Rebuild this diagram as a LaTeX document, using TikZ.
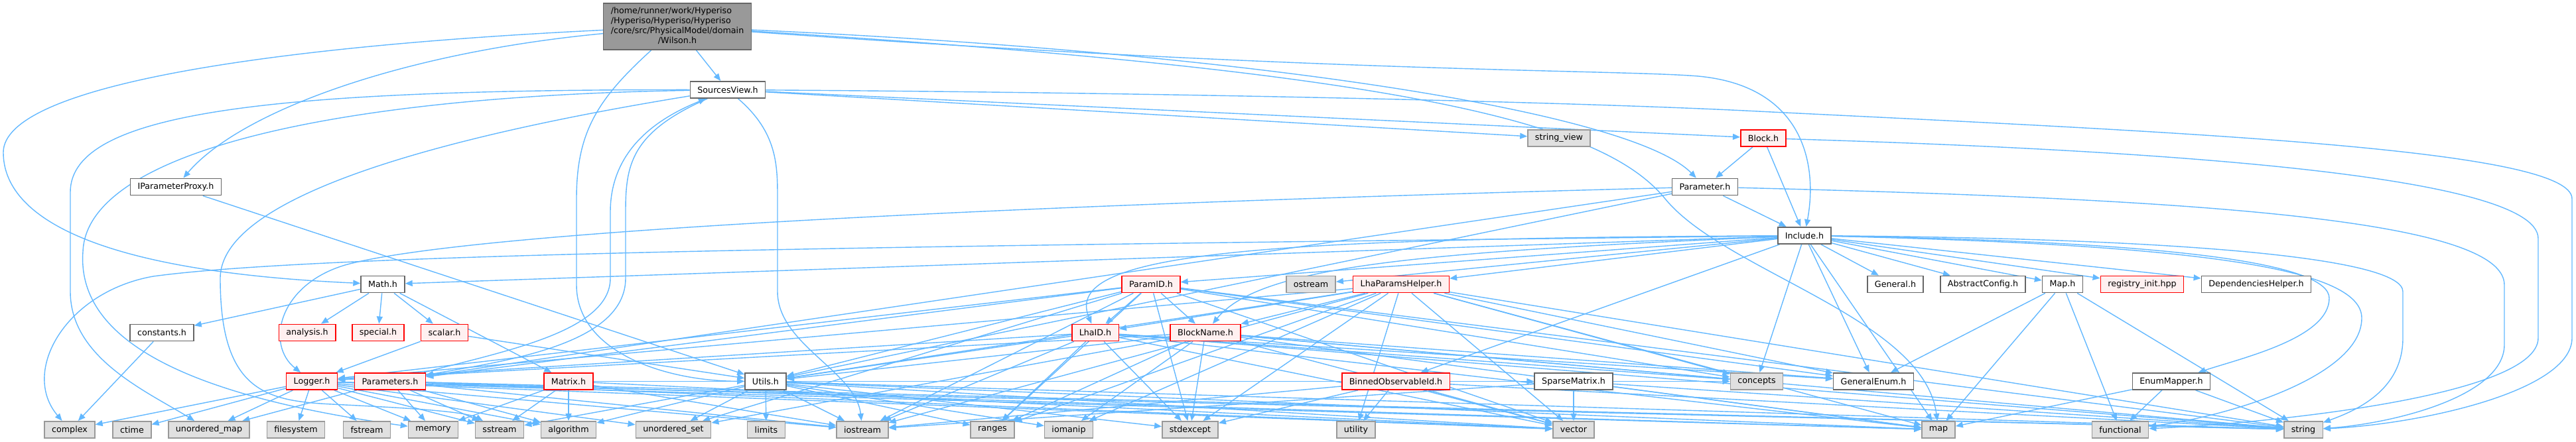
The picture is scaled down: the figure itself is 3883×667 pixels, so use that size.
\documentclass[tikz,border=0pt]{standalone}
\usepackage{fontspec}
\setmainfont{DejaVu Sans}
\usetikzlibrary{arrows.meta,backgrounds}
\definecolor{edgeblue}{HTML}{63B8FF}
\definecolor{mainfill}{HTML}{999999}
\definecolor{boxline}{HTML}{666666}
\definecolor{sysfill}{HTML}{E0E0E0}
\definecolor{sysline}{HTML}{999999}
\definecolor{truncfill}{HTML}{FFF0F0}
\definecolor{truncline}{HTML}{FF0000}
\begin{document}
\begin{tikzpicture}[x=0.5pt,y=-0.5pt,
    every node/.style={draw=boxline,fill=white,rectangle,line width=0.75pt,inner xsep=5.5pt,inner ysep=0pt,minimum height=12.7pt,font=\fontsize{6.35}{7.5}\selectfont},
    sysfile/.style={draw=sysline,fill=sysfill},
    trunc/.style={draw=truncline,fill=truncfill},
    mainfile/.style={fill=mainfill,inner ysep=2.5pt},
    inc/.style={draw=edgeblue,line width=0.7pt,-{Triangle[length=5.5pt,width=4.5pt]}},
    every edge/.style={inc}]
    \useasboundingbox (0,0) rectangle (3883,667);

    \node[mainfile] (wilson) at (1021,40) {\begin{tabular}{@{}l@{}}/home/runner/work/Hyperiso\\/Hyperiso/Hyperiso/Hyperiso\\/core/src/PhysicalModel/domain\\\multicolumn{1}{@{}c@{}}{/Wilson.h}\end{tabular}};
    \node at (1097,135.5) (sview) {SourcesView.h};
    \node at (265,282) (iproxy) {IParameterProxy.h};
    \node[sysfile] at (2350,208.5) (strview) {string\_view};
    \node[trunc] at (2658,208.5) (block) {Block.h};
    \node at (2570,282) (param) {Parameter.h};
    \node at (2720,355.5) (include) {Include.h};

    \node at (577,429) (math) {Math.h};
    \node[trunc] at (1735,429) (paramid) {ParamID.h};
    \node[sysfile] at (1976,429) (ostream) {ostream};
    \node[trunc] at (2112,429) (lhahelper) {LhaParamsHelper.h};
    \node at (2857,429) (general) {General.h};
    \node at (2989,429) (absconfig) {AbstractConfig.h};
    \node at (3109,429) (mapH) {Map.h};
    \node[trunc] at (3229,429) (registry) {registry\_init.hpp};
    \node at (3401,429) (dephelper) {DependenciesHelper.h};

    \node at (244,502) (constants) {constants.h};
    \node[trunc] at (463,502) (analysis) {analysis.h};
    \node[trunc] at (570,502) (special) {special.h};
    \node[trunc] at (670,502) (scalar) {scalar.h};
    \node[trunc] at (1651,502) (lhaid) {LhaID.h};
    \node[trunc] at (1817,502) (blockname) {BlockName.h};

    \node[trunc] at (470,575.5) (logger) {Logger.h};
    \node[trunc] at (588,575.5) (parameters) {Parameters.h};
    \node[trunc] at (857,575.5) (matrix) {Matrix.h};
    \node at (1154,575.5) (utils) {Utils.h};
    \node[trunc] at (2104,575.5) (binned) {BinnedObservableId.h};
    \node at (2372,575.5) (sparse) {SparseMatrix.h};
    \node[sysfile] at (2648,575.5) (concepts) {concepts};
    \node at (2824,575.5) (genenum) {GeneralEnum.h};
    \node at (3273,575.5) (enummap) {EnumMapper.h};

    % system headers
    \node[sysfile] at (105,648.5) (complex) {complex};
    \node[sysfile] at (199,648.5) (ctime) {ctime};
    \node[sysfile] at (315,648.5) (umap) {unordered\_map};
    \node[sysfile] at (446,648.5) (filesystem) {filesystem};
    \node[sysfile] at (553,648.5) (fstream) {fstream};
    \node[sysfile] at (653,648.5) (memory) {memory};
    \node[sysfile] at (753,648.5) (sstream) {sstream};
    \node[sysfile] at (857,648.5) (algorithm) {algorithm};
    \node[sysfile] at (1015,648.5) (uset) {unordered\_set};
    \node[sysfile] at (1155,648.5) (limits) {limits};
    \node[sysfile] at (1300,648.5) (iostream) {iostream};
    \node[sysfile] at (1496,648.5) (ranges) {ranges};
    \node[sysfile] at (1611,648.5) (iomanip) {iomanip};
    \node[sysfile] at (1794,648.5) (stdexcept) {stdexcept};
    \node[sysfile] at (2044,648.5) (utility) {utility};
    \node[sysfile] at (2372,648.5) (vector) {vector};
    \node[sysfile] at (2922,648.5) (map) {map};
    \node[sysfile] at (3196,648.5) (functional) {functional};
    \node[sysfile] at (3472,648.5) (string) {string};

    \begin{scope}[on background layer]
    % Wilson.h
    \path (wilson) edge (sview);
    \draw[inc] (wilson) .. controls (600,80) and (360,170) .. (iproxy);
    \draw[inc] (wilson) .. controls (400,70) and (5,130) .. (5,230) .. controls (5,330) and (150,410) .. (math);
    \draw[inc] (wilson) .. controls (900,150) and (869,200) .. (869,300) -- (869,430) .. controls (869,530) and (1000,575) .. (utils);
    \draw[inc] (wilson) .. controls (1900,80) and (2460,170) .. (param);
    \draw[inc] (wilson) .. controls (2000,110) and (2440,105) .. (2560,115) .. controls (2720,130) and (2740,250) .. (include);
    \draw[inc] (wilson) .. controls (2150,110) and (2420,190) .. (2510,300) .. controls (2600,410) and (2900,480) .. (map);
    % SourcesView.h
    \path (sview) edge (strview) edge (block);
    \draw[inc] (sview) .. controls (1800,140) and (2400,155) .. (2650,168) .. controls (3300,200) and (3877,225) .. (3877,300) -- (3877,510) .. controls (3877,590) and (3650,640) .. (string);
    \draw[inc] (sview) .. controls (400,135) and (106,170) .. (106,290) -- (106,440) .. controls (106,540) and (220,590) .. (umap);
    \draw[inc] (sview) .. controls (500,145) and (130,230) .. (125,380) .. controls (115,520) and (300,600) .. (memory);
    \draw[inc] (sview) .. controls (700,200) and (332,290) .. (332,420) .. controls (332,590) and (400,605) .. (500,610) .. controls (600,615) and (700,620) .. (sstream);
    \draw[inc] (sview) .. controls (1172,200) and (1172,250) .. (1172,300) -- (1172,440) .. controls (1172,520) and (1290,560) .. (iostream);
    \draw[inc] (sview) .. controls (950,200) and (943,250) .. (943,320) -- (943,420) .. controls (943,520) and (760,545) .. (parameters);
    \draw[inc] (parameters) .. controls (760,530) and (920,500) .. (920,420) -- (920,320) .. controls (920,220) and (1000,175) .. (sview);
    % Block.h, Parameter.h
    \path (block) edge (param) edge (include);
    \draw[inc] (block) .. controls (3200,225) and (3826,260) .. (3826,360) -- (3826,510) .. controls (3826,600) and (3400,640) .. (functional);
    \path (iproxy) edge (utils);
    \path (param) edge (include) edge (parameters) edge (utils);
    \draw[inc] (param) .. controls (1500,310) and (700,350) .. (520,400) .. controls (420,430) and (400,520) .. (logger);
    \draw[inc] (param) .. controls (3300,300) and (3775,330) .. (3775,430) -- (3775,520) .. controls (3775,600) and (3600,640) .. (string);
    % Include.h
    \path (include) edge (math) edge (paramid) edge (ostream) edge (lhahelper) edge (binned) edge (general) edge (absconfig) edge (mapH) edge (registry) edge (dephelper) edge (concepts) edge (genenum) edge (map);
    \draw[inc] (include) .. controls (1500,370) and (500,380) .. (231,417) .. controls (100,440) and (30,560) .. (complex);
    \draw[inc] (include) .. controls (1900,360) and (1600,380) .. (lhaid);
    \draw[inc] (include) .. controls (2150,380) and (1900,400) .. (blockname);
    \draw[inc] (include) .. controls (3300,360) and (3622,390) .. (3622,440) -- (3622,510) .. controls (3622,590) and (3550,620) .. (string);
    \draw[inc] (include) .. controls (3300,365) and (3511,400) .. (3511,450) .. controls (3511,510) and (3380,540) .. (enummap);
    \draw[inc] (include) .. controls (3350,370) and (3560,410) .. (3560,480) .. controls (3560,570) and (3350,630) .. (functional);
    % Math.h
    \path (math) edge (constants) edge (analysis) edge (special) edge (scalar) edge (matrix);
    \path (constants) edge (complex);
    \path (scalar) edge (logger) edge (utils);
    % ids and helpers
    \path (paramid) edge (lhaid) edge (blockname) edge (stdexcept) edge (ranges) edge (iostream) edge (logger) edge (utils) edge (parameters) edge (string) edge (vector) edge (concepts) edge (genenum) edge (uset);
    \path (lhahelper) edge (lhaid) edge (blockname) edge (utility) edge (vector) edge (string) edge (map) edge (logger) edge (utils) edge (stdexcept) edge (ranges) edge (concepts) edge (genenum) edge (iomanip) edge (iostream);
    \path (lhaid) edge (iostream) edge (ranges) edge (stdexcept) edge (utils) edge (logger) edge (string) edge (vector) edge (concepts) edge (genenum) edge (map);
    \path (blockname) edge (stdexcept) edge (ranges) edge (iomanip) edge (logger) edge (utils) edge (string) edge (vector) edge (concepts) edge (genenum) edge (uset) edge (map);
    % lower row
    \path (logger) edge (complex) edge (ctime) edge (umap) edge (filesystem) edge (fstream) edge (memory) edge (sstream) edge (algorithm) edge (iostream) edge (string) edge (vector) edge (map) edge (uset);
    \path (parameters) edge (memory) edge (algorithm) edge (umap) edge (sstream) edge (string) edge (vector) edge (map) edge (iostream);
    \path (matrix) edge (algorithm) edge (sstream) edge (memory) edge (vector) edge (iostream) edge (sparse);
    \path (utils) edge (limits) edge (uset) edge (algorithm) edge (iostream) edge (sstream) edge (string) edge (vector) edge (ranges) edge (iomanip) edge (stdexcept) edge (map) edge (concepts);
    \path (binned) edge (utility) edge (vector) edge (string) edge (stdexcept) edge (iostream);
    \path (sparse) edge (vector) edge (map) edge (iostream) edge (string);
    \path (mapH) edge (genenum) edge (map) edge (string) edge (functional);
    \path (enummap) edge (string) edge (map) edge (functional);
    \end{scope}
\end{tikzpicture}
\end{document}
